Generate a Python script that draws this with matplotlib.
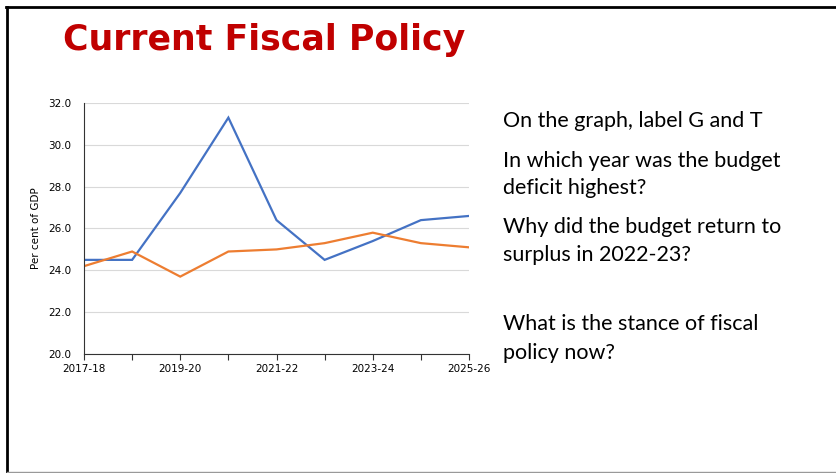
import matplotlib.pyplot as plt
from matplotlib.lines import Line2D

# data
years = ['2017-18', '2018-19', '2019-20', '2020-21', '2021-22',
         '2022-23', '2023-24', '2024-25', '2025-26']
spending = [24.5, 24.5, 27.7, 31.3, 26.4, 24.5, 25.4, 26.4, 26.6]
revenue = [24.2, 24.9, 23.7, 24.9, 25.0, 25.3, 25.8, 25.3, 25.1]
y_ticks = [20.0, 22.0, 24.0, 26.0, 28.0, 30.0, 32.0]
questions = [
    ('On the graph, label G and T', 121),
    ('In which year was the budget', 161),
    ('deficit highest?', 188),
    ('Why did the budget return to', 227),
    ('surplus in 2022-23?', 255),
    ('What is the stance of fiscal', 324),
    ('policy now?', 353),
]

W, H = 836, 473
fig = plt.figure(figsize=(W / 100, H / 100), dpi=100)

# slide frame
fig.add_artist(Line2D([6 / W, 1], [1 - 7 / H, 1 - 7 / H], color='black', lw=2))
fig.add_artist(Line2D([7 / W, 7 / W], [1 - 7 / H, 0], color='black', lw=2))
fig.add_artist(Line2D([7 / W, 1], [1 - 472 / H, 1 - 472 / H], color='#999999', lw=1))

fig.text(264 / W, 1 - 40 / H, 'Current Fiscal Policy', color='#C00000',
         fontsize=25, fontweight='bold', family='DejaVu Sans',
         ha='center', va='center')

ax = fig.add_axes([84 / W, 1 - 354 / H, (469 - 84) / W, (354 - 103) / H])
x = list(range(len(years)))
ax.plot(x, spending, color='#4472C4', lw=1.6, solid_joinstyle='miter')
ax.plot(x, revenue, color='#ED7D31', lw=1.6, solid_joinstyle='miter')

ax.set_xlim(0, len(years) - 1)
ax.set_ylim(20, 32)
ax.set_yticks(y_ticks)
ax.set_yticklabels([f'{v:.1f}' for v in y_ticks])
ax.set_xticks(x)
ax.set_xticklabels([y if i % 2 == 0 else '' for i, y in enumerate(years)])
ax.tick_params(axis='x', length=4, width=0.8, color='#333333', labelsize=7.5, pad=3)
ax.tick_params(axis='y', length=0, labelsize=7.5, pad=9)
ax.grid(axis='y', color='#D9D9D9', lw=0.8)
ax.set_axisbelow(True)
for s in ['top', 'right']:
    ax.spines[s].set_visible(False)
ax.spines['left'].set_color('#333333')
ax.spines['bottom'].set_color('#333333')
ax.set_ylabel('Per cent of GDP', fontsize=7.5, labelpad=5)

for txt, yp in questions:
    fig.text(503 / W, 1 - yp / H, txt, fontsize=15.5, family='Lato',
             ha='left', va='center', color='black')

fig.savefig('out.png', dpi=100)
